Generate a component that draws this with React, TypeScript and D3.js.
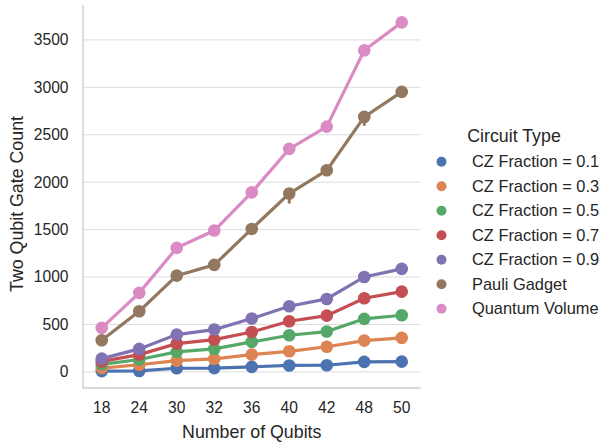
import React from "react";
import * as d3 from "d3";

const qubits = ["18", "24", "30", "32", "36", "40", "42", "48", "50"];
const seriesNames = [
  "CZ Fraction = 0.1",
  "CZ Fraction = 0.3",
  "CZ Fraction = 0.5",
  "CZ Fraction = 0.7",
  "CZ Fraction = 0.9",
  "Pauli Gadget",
  "Quantum Volume",
];
const cz01 = [8, 10, 38, 40, 53, 68, 70, 105, 108];
const cz03 = [40, 75, 119, 137, 182, 217, 265, 330, 358];
const cz05 = [80, 130, 211, 242, 316, 386, 425, 559, 597];
const cz07 = [110, 182, 298, 340, 421, 534, 593, 776, 846];
const cz09 = [140, 242, 393, 446, 562, 692, 769, 1001, 1086];
const pauli = [333, 639, 1015, 1128, 1507, 1880, 2125, 2688, 2952];
const qv = [464, 833, 1307, 1490, 1893, 2351, 2586, 3390, 3685];
const yTicks = [0, 500, 1000, 1500, 2000, 2500, 3000, 3500];
const palette = ["#4C72B0", "#DD8452", "#55A868", "#C44E52", "#8172B3", "#937860", "#DA8BC3"];
// error bars (series index, category index, low, high)
const errSeries = [5, 5];
const errCat = [5, 7];
const errLow = [1775, 2595];
const errHigh = [1920, 2720];

const allSeries = [cz01, cz03, cz05, cz07, cz09, pauli, qv];

export default function App() {
  const W = 603, H = 444;
  const left = 83, right = 420.5, top = 5, bottom = 388;
  const x = d3.scalePoint<string>().domain(qubits).range([left, right]).padding(0.5);
  const y = d3.scaleLinear().domain([-170, 3868]).range([bottom, top]);
  const line = d3.line<number>().x((_, i) => x(qubits[i])!).y((v) => y(v));
  const font = "'Liberation Sans', Arial, sans-serif";
  const textColor = "#262626";
  return (
    <svg width={W} height={H} style={{ position: "absolute", left: 0, top: 0 }} fontFamily={font}>
      <rect width={W} height={H} fill="#ffffff" />
      {yTicks.map((t) => (
        <g key={t}>
          <line x1={left} x2={right} y1={y(t)} y2={y(t)} stroke="#dcdcdc" strokeWidth={1} />
          <text x={68.5} y={y(t)} dy="0.35em" textAnchor="end" fontSize={15.6} fill={textColor}>
            {t}
          </text>
        </g>
      ))}
      <line x1={left} x2={left} y1={top} y2={bottom} stroke="#cccccc" strokeWidth={1.3} />
      <line x1={left} x2={right} y1={bottom} y2={bottom} stroke="#cccccc" strokeWidth={1.3} />
      {qubits.map((q) => (
        <text key={q} x={x(q)} y={407.5} dy="0.35em" textAnchor="middle" fontSize={15.6} fill={textColor}>
          {q}
        </text>
      ))}
      <text x={(left + right) / 2} y={431.5} dy="0.35em" textAnchor="middle" fontSize={17.8} fill={textColor}>
        Number of Qubits
      </text>
      <text
        transform={`translate(16.5,204) rotate(-90)`}
        dy="0.35em"
        textAnchor="middle"
        fontSize={17.8}
        fill={textColor}
      >
        Two Qubit Gate Count
      </text>
      {allSeries.map((s, si) => (
        <g key={si}>
          <path d={line(s)!} fill="none" stroke={palette[si]} strokeWidth={3.2} />
          {s.map((v, i) => (
            <circle key={i} cx={x(qubits[i])} cy={y(v)} r={6.3} fill={palette[si]} />
          ))}
        </g>
      ))}
      {errSeries.map((si, k) => (
        <line
          key={k}
          x1={x(qubits[errCat[k]])}
          x2={x(qubits[errCat[k]])}
          y1={y(errLow[k])}
          y2={y(errHigh[k])}
          stroke={palette[si]}
          strokeWidth={3}
        />
      ))}
      <text x={514} y={136} dy="0.35em" textAnchor="middle" fontSize={17.8} fill={textColor}>
        Circuit Type
      </text>
      {seriesNames.map((n, i) => (
        <g key={n}>
          <circle cx={441.5} cy={161.7 + i * 24.5} r={5} fill={palette[i]} />
          <text x={472} y={161.7 + i * 24.5} dy="0.35em" fontSize={16.4} fill={textColor}>
            {n}
          </text>
        </g>
      ))}
    </svg>
  );
}
